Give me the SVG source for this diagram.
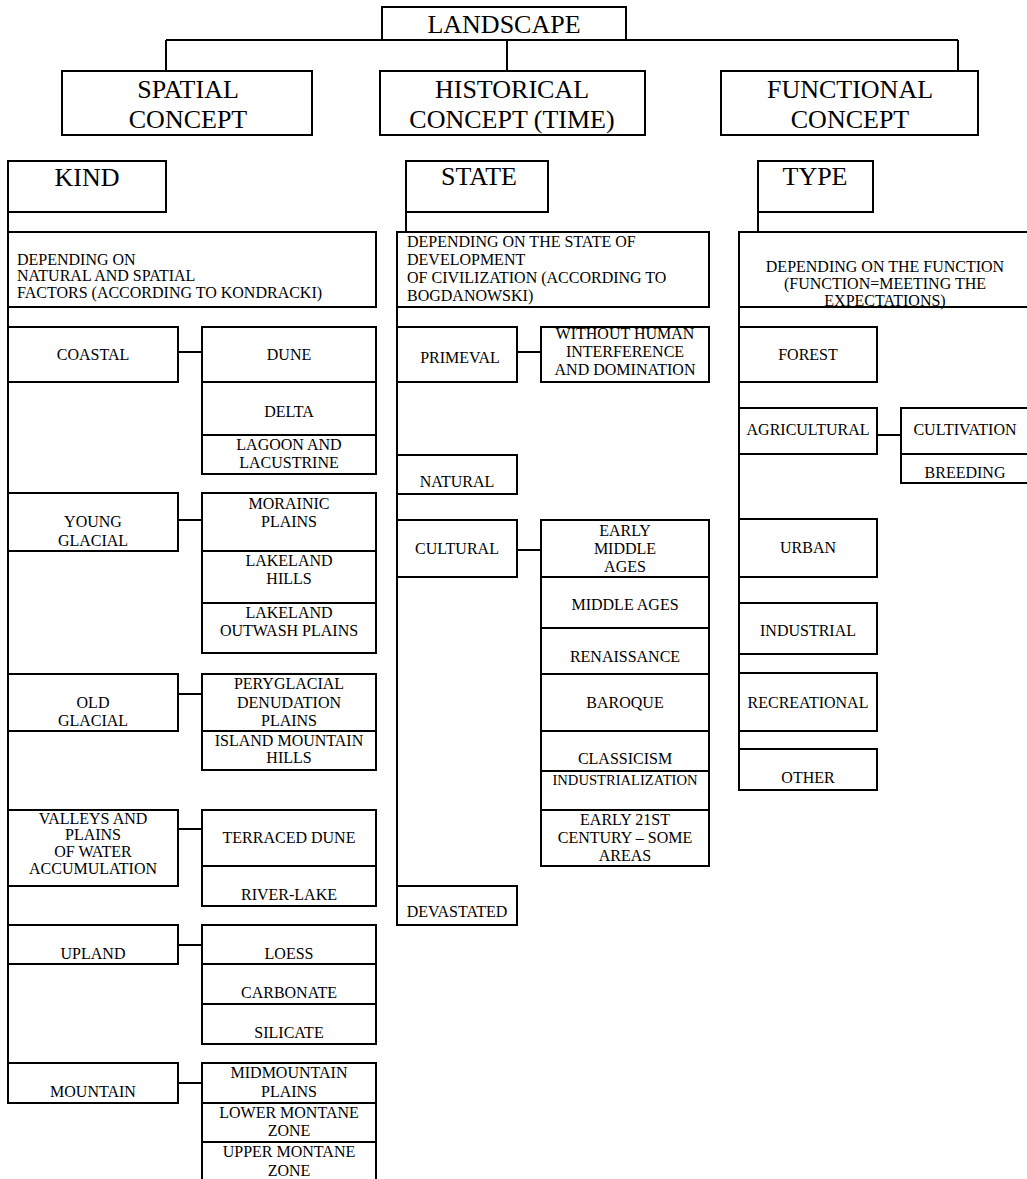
<svg xmlns="http://www.w3.org/2000/svg" width="1027" height="1179" viewBox="0 0 1027 1179">
<style>
.b{fill:#fff;stroke:#000;stroke-width:2}
.c{fill:none;stroke:#000;stroke-width:2}
text{font-family:"Liberation Serif","Times New Roman",serif;fill:#000;font-size:16px;text-anchor:middle}
.L{font-size:26px}
.l{text-anchor:start}
</style>
<rect width="1027" height="1179" fill="#fff"/>
<g id="connectors">
<path class="c" d="M166,40H958M166,40V71M507,40V71M958,40V71"/>
<path class="c" d="M8,212V1103"/>
<path class="c" d="M406,212V232M397,307V925"/>
<path class="c" d="M758,212V232M739,307V790"/>
<path class="c" d="M178,352H202M178,520H202M178,694H202M178,829H202M178,945H202M178,1083H202"/>
<path class="c" d="M517,352H541M517,550H541"/>
<path class="c" d="M877,435H901"/>
</g>
<g id="landscape"><rect class="b" x="382" y="7" width="244" height="33"/><text class="L" x="504" y="33">LANDSCAPE</text></g>
<g id="spatial"><rect class="b" x="62" y="71" width="250" height="64"/><text class="L" x="188" y="98">SPATIAL</text><text class="L" x="188" y="128">CONCEPT</text></g>
<g id="historical"><rect class="b" x="380" y="71" width="265" height="64"/><text class="L" x="512" y="98">HISTORICAL</text><text class="L" x="512" y="128">CONCEPT (TIME)</text></g>
<g id="functional"><rect class="b" x="721" y="71" width="257" height="64"/><text class="L" x="850" y="98">FUNCTIONAL</text><text class="L" x="850" y="128">CONCEPT</text></g>

<g id="kind"><rect class="b" x="8" y="161" width="158" height="51"/><text class="L" x="87" y="186">KIND</text></g>
<g id="kind-dep"><rect class="b" x="8" y="232" width="368" height="75"/><text class="l" x="17" y="265">DEPENDING ON</text><text class="l" x="17" y="281">NATURAL AND SPATIAL</text><text class="l" x="17" y="298">FACTORS (ACCORDING TO KONDRACKI)</text></g>
<g id="coastal"><rect class="b" x="8" y="327" width="170" height="55"/><text x="93" y="360">COASTAL</text></g>
<g id="dune"><rect class="b" x="202" y="327" width="174" height="55"/><text x="289" y="360">DUNE</text></g>
<g id="delta"><rect class="b" x="202" y="382" width="174" height="53"/><text x="289" y="417">DELTA</text></g>
<g id="lagoon"><rect class="b" x="202" y="435" width="174" height="39"/><text x="289" y="450">LAGOON AND</text><text x="289" y="468">LACUSTRINE</text></g>
<g id="young"><rect class="b" x="8" y="493" width="170" height="58"/><text x="93" y="527">YOUNG</text><text x="93" y="546">GLACIAL</text></g>
<g id="morainic"><rect class="b" x="202" y="493" width="174" height="58"/><text x="289" y="509">MORAINIC</text><text x="289" y="527">PLAINS</text></g>
<g id="lakeland-hills"><rect class="b" x="202" y="551" width="174" height="52"/><text x="289" y="566">LAKELAND</text><text x="289" y="584">HILLS</text></g>
<g id="lakeland-outwash"><rect class="b" x="202" y="603" width="174" height="50"/><text x="289" y="618">LAKELAND</text><text x="289" y="636">OUTWASH PLAINS</text></g>
<g id="old"><rect class="b" x="8" y="674" width="170" height="57"/><text x="93" y="708">OLD</text><text x="93" y="726">GLACIAL</text></g>
<g id="peryglacial"><rect class="b" x="202" y="674" width="174" height="57"/><text x="289" y="689">PERYGLACIAL</text><text x="289" y="708">DENUDATION</text><text x="289" y="726">PLAINS</text></g>
<g id="island"><rect class="b" x="202" y="731" width="174" height="39"/><text x="289" y="746">ISLAND MOUNTAIN</text><text x="289" y="763">HILLS</text></g>
<g id="valleys"><rect class="b" x="8" y="810" width="170" height="76"/><text x="93" y="824">VALLEYS AND</text><text x="93" y="840">PLAINS</text><text x="93" y="857">OF WATER</text><text x="93" y="874">ACCUMULATION</text></g>
<g id="terraced"><rect class="b" x="202" y="810" width="174" height="56"/><text x="289" y="843">TERRACED DUNE</text></g>
<g id="river-lake"><rect class="b" x="202" y="866" width="174" height="40"/><text x="289" y="900">RIVER-LAKE</text></g>
<g id="upland"><rect class="b" x="8" y="925" width="170" height="39"/><text x="93" y="959">UPLAND</text></g>
<g id="loess"><rect class="b" x="202" y="925" width="174" height="39"/><text x="289" y="959">LOESS</text></g>
<g id="carbonate"><rect class="b" x="202" y="964" width="174" height="40"/><text x="289" y="998">CARBONATE</text></g>
<g id="silicate"><rect class="b" x="202" y="1004" width="174" height="40"/><text x="289" y="1038">SILICATE</text></g>
<g id="mountain"><rect class="b" x="8" y="1063" width="170" height="40"/><text x="93" y="1097">MOUNTAIN</text></g>
<g id="midmountain"><rect class="b" x="202" y="1063" width="174" height="40"/><text x="289" y="1078">MIDMOUNTAIN</text><text x="289" y="1097">PLAINS</text></g>
<g id="lower-montane"><rect class="b" x="202" y="1103" width="174" height="39"/><text x="289" y="1118">LOWER MONTANE</text><text x="289" y="1136">ZONE</text></g>
<g id="upper-montane"><rect class="b" x="202" y="1142" width="174" height="40"/><text x="289" y="1157">UPPER MONTANE</text><text x="289" y="1176">ZONE</text></g>

<g id="state"><rect class="b" x="406" y="161" width="142" height="51"/><text class="L" x="479" y="185">STATE</text></g>
<g id="state-dep"><rect class="b" x="397" y="232" width="312" height="75"/><text class="l" x="407" y="247">DEPENDING ON THE STATE OF</text><text class="l" x="407" y="265">DEVELOPMENT</text><text class="l" x="407" y="283">OF CIVILIZATION (ACCORDING TO</text><text class="l" x="407" y="301">BOGDANOWSKI)</text></g>
<g id="primeval"><rect class="b" x="397" y="327" width="120" height="55"/><text x="460" y="363">PRIMEVAL</text></g>
<g id="without"><rect class="b" x="541" y="327" width="168" height="55"/><text x="625" y="339">WITHOUT HUMAN</text><text x="625" y="357">INTERFERENCE</text><text x="625" y="375">AND DOMINATION</text></g>
<g id="natural"><rect class="b" x="397" y="455" width="120" height="39"/><text x="457" y="487">NATURAL</text></g>
<g id="cultural"><rect class="b" x="397" y="520" width="120" height="57"/><text x="457" y="554">CULTURAL</text></g>
<g id="early-middle"><rect class="b" x="541" y="520" width="168" height="57"/><text x="625" y="536">EARLY</text><text x="625" y="554">MIDDLE</text><text x="625" y="572">AGES</text></g>
<g id="middle-ages"><rect class="b" x="541" y="577" width="168" height="51"/><text x="625" y="610">MIDDLE AGES</text></g>
<g id="renaissance"><rect class="b" x="541" y="628" width="168" height="46"/><text x="625" y="662">RENAISSANCE</text></g>
<g id="baroque"><rect class="b" x="541" y="674" width="168" height="57"/><text x="625" y="708">BAROQUE</text></g>
<g id="classicism"><rect class="b" x="541" y="731" width="168" height="40"/><text x="625" y="764">CLASSICISM</text></g>
<g id="industrialization"><rect class="b" x="541" y="771" width="168" height="39"/><text x="625" y="785" style="font-size:14.6px">INDUSTRIALIZATION</text></g>
<g id="early-21"><rect class="b" x="541" y="810" width="168" height="56"/><text x="625" y="825">EARLY 21ST</text><text x="625" y="843">CENTURY – SOME</text><text x="625" y="861">AREAS</text></g>
<g id="devastated"><rect class="b" x="397" y="886" width="120" height="39"/><text x="457" y="917">DEVASTATED</text></g>

<g id="type"><rect class="b" x="758" y="161" width="115" height="51"/><text class="L" x="815" y="185">TYPE</text></g>
<g id="type-dep"><rect class="b" x="739" y="232" width="300" height="75"/><text x="885" y="272">DEPENDING ON THE FUNCTION</text><text x="885" y="289">(FUNCTION=MEETING THE</text><text x="885" y="306">EXPECTATIONS)</text></g>
<g id="forest"><rect class="b" x="739" y="327" width="138" height="55"/><text x="808" y="360">FOREST</text></g>
<g id="agricultural"><rect class="b" x="739" y="408" width="138" height="46"/><text x="808" y="435">AGRICULTURAL</text></g>
<g id="cultivation"><rect class="b" x="901" y="408" width="140" height="46"/><text x="965" y="435">CULTIVATION</text></g>
<g id="breeding"><rect class="b" x="901" y="454" width="140" height="29"/><text x="965" y="478">BREEDING</text></g>
<g id="urban"><rect class="b" x="739" y="519" width="138" height="58"/><text x="808" y="553">URBAN</text></g>
<g id="industrial"><rect class="b" x="739" y="603" width="138" height="51"/><text x="808" y="636">INDUSTRIAL</text></g>
<g id="recreational"><rect class="b" x="739" y="673" width="138" height="58"/><text x="808" y="708">RECREATIONAL</text></g>
<g id="other"><rect class="b" x="739" y="749" width="138" height="41"/><text x="808" y="783">OTHER</text></g>
</svg>
